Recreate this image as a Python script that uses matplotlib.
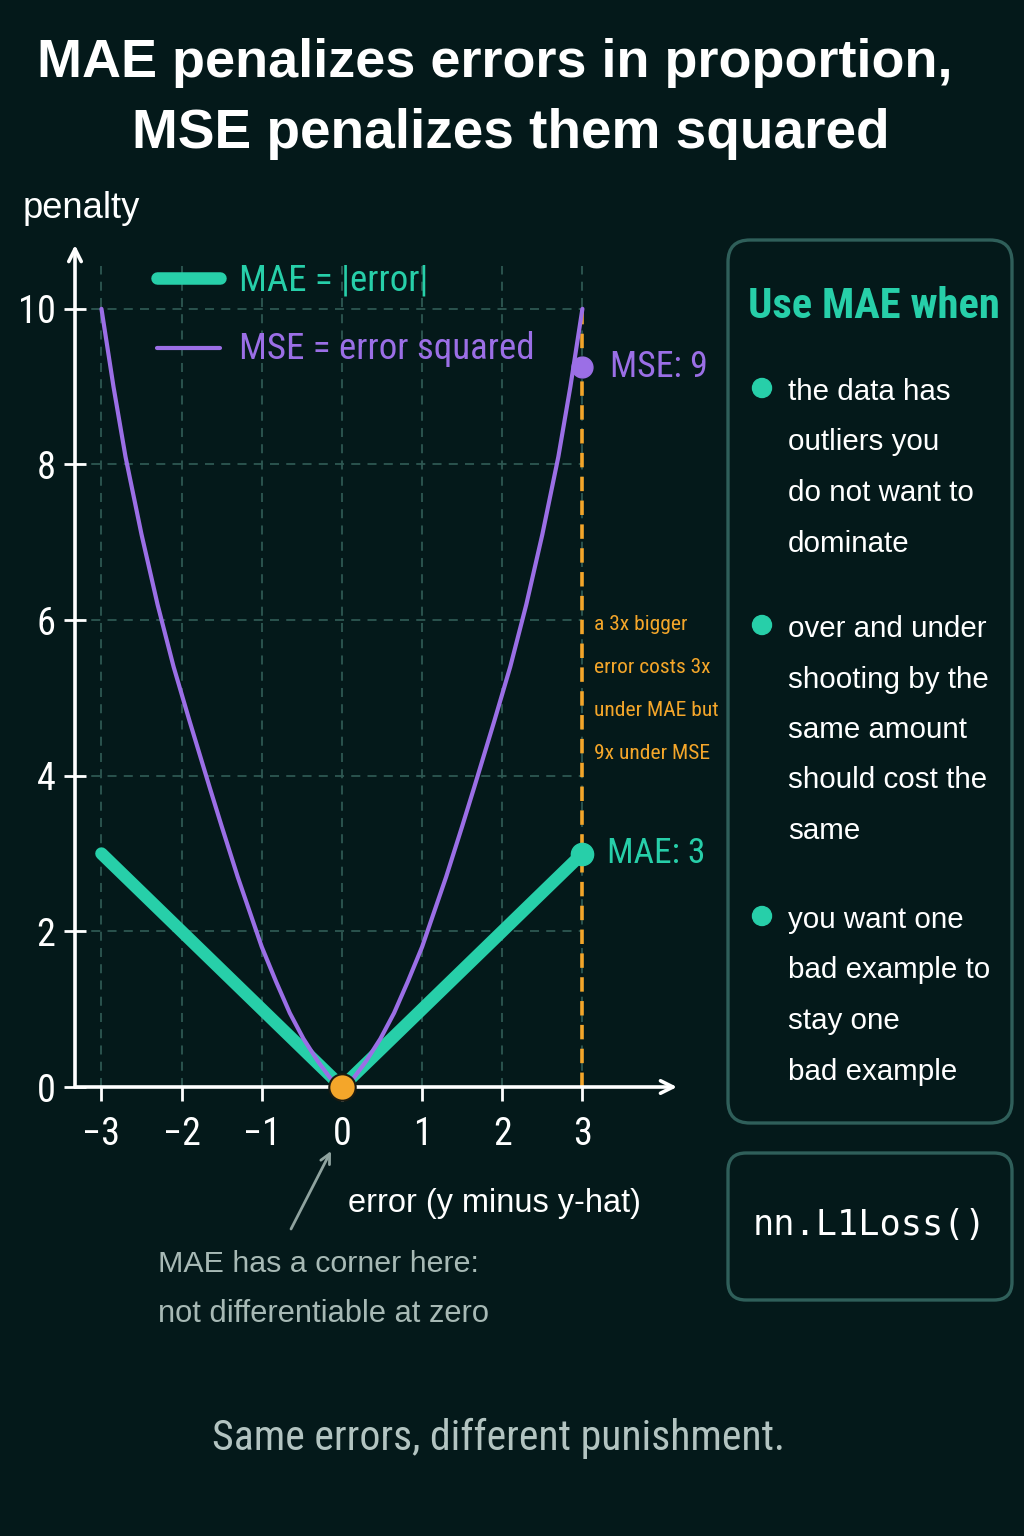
import matplotlib
matplotlib.use('Agg')
import matplotlib.pyplot as plt
from matplotlib import font_manager as fm
from matplotlib.patches import FancyBboxPatch, Circle

# ---------------- data ----------------
mae_errors = [-3.0, 0.0, 3.0]
mae_penalty = [3.0, 0.0, 3.0]
mse_errors = [-3.0, -2.85, -2.7, -2.5, -2.3, -2.1, -1.9, -1.65, -1.5, -1.3, -1.15, -1.0,
              -0.82, -0.65, -0.48, -0.3, -0.15, 0.0,
              0.15, 0.3, 0.48, 0.65, 0.82, 1.0, 1.15, 1.3, 1.5, 1.65, 1.9, 2.1, 2.3,
              2.5, 2.7, 2.85, 3.0]
mse_penalty = [10.0, 9.0, 8.1, 7.1, 6.2, 5.4, 4.7, 3.85, 3.35, 2.7, 2.25, 1.8,
               1.35, 0.95, 0.62, 0.33, 0.12, 0.0,
               0.12, 0.33, 0.62, 0.95, 1.35, 1.8, 2.25, 2.7, 3.35, 3.85, 4.7, 5.4, 6.2,
               7.1, 8.1, 9.0, 10.0]
marked_error = 3.0
mse_marked = 9.25
mae_marked = 3.0
x_ticks = [-3, -2, -1, 0, 1, 2, 3]
y_ticks = [0, 2, 4, 6, 8, 10]
legend_labels = ['MAE = |error|', 'MSE = error squared']
bullets = [
    ['the data has', 'outliers you', 'do not want to', 'dominate'],
    ['over and under', 'shooting by the', 'same amount', 'should cost the', 'same'],
    ['you want one', 'bad example to', 'stay one', 'bad example'],
]
note_lines = ['a 3x bigger', 'error costs 3x', 'under MAE but', '9x under MSE']

# ---------------- style ----------------
W, H = 1024, 1536
BG = '#04191a'
TEAL = '#27cfa9'
PURPLE = '#9b6fe6'
ORANGE = '#f4a62a'
GRID = '#2d5852'
BORDER = '#2f5f5a'
GREY = '#a7b9b5'
FOOT = '#b3c4c1'

entries = fm.fontManager.ttflist
names = {f.name for f in entries}
REG = 'Liberation Sans' if 'Liberation Sans' in names else 'DejaVu Sans'


def pick_condensed():
    for nm in ['Liberation Sans Narrow', 'Roboto Condensed', 'Open Sans Condensed']:
        if nm in names:
            return nm, 'normal'
    for nm in ['Roboto', 'Noto Sans', 'Open Sans', 'Lato', 'DejaVu Sans']:
        for f in entries:
            if f.name == nm and 'condensed' in str(f.stretch):
                return nm, 'condensed'
    return REG, 'normal'


NAR, NST = pick_condensed()
MONO = 'DejaVu Sans Mono'
COND = dict(fontfamily=NAR, fontstretch=NST)

fig = plt.figure(figsize=(W / 100, H / 100), dpi=100, facecolor=BG)
fits = []  # (texts, target width px)

ov = fig.add_axes([0, 0, 1, 1], zorder=0)
ov.set_xlim(0, W)
ov.set_ylim(H, 0)
ov.axis('off')
ov.set_facecolor('none')


def ftext(x, y, s, width=None, **kw):
    t = ov.text(x, y, s, **kw)
    if width:
        fits.append(([t], width))
    return t


# ---------------- main axes ----------------
ax = fig.add_axes([75 / W, (H - 1087) / H, 602 / W, 842 / H], zorder=2)
ax.set_facecolor('none')
ax.set_xlim(-3.33, 4.18)
ax.set_ylim(0, 10.82)
for s in ax.spines.values():
    s.set_visible(False)

ax.hlines(y_ticks[1:], -3.33, marked_error, colors=GRID, linestyles=(0, (5, 4)), lw=1.3, zorder=1)
ax.vlines(x_ticks, 0, 10.55, colors=GRID, linestyles=(0, (5, 4)), lw=1.3, zorder=1)

arrow_kw = dict(arrowstyle='->,head_length=0.9,head_width=0.45', color='white', lw=2.6,
                shrinkA=0, shrinkB=0)
ax.annotate('', xy=(1, 0), xytext=(0, 0), xycoords='axes fraction', arrowprops=arrow_kw, zorder=5)
ax.annotate('', xy=(0, 1), xytext=(0, 0), xycoords='axes fraction', arrowprops=arrow_kw, zorder=5)

ax.set_xticks(x_ticks)
ax.set_yticks(y_ticks)
ax.set_xticklabels([('\u2212%d' % -v) if v < 0 else str(v) for v in x_ticks])
ax.tick_params(axis='x', colors='white', direction='out', length=10, width=2, pad=11, labelsize=26)
ax.tick_params(axis='y', colors='white', direction='inout', length=16, width=2, pad=6, labelsize=28)
for lab in ax.get_xticklabels() + ax.get_yticklabels():
    lab.set_fontfamily(NAR)
    lab.set_fontstretch(NST)

ax.vlines(marked_error, 0, 10, colors=ORANGE, linestyles=(0, (4, 2.6)), lw=2.6, zorder=2)

mae_line, = ax.plot(mae_errors, mae_penalty, color=TEAL, lw=9, solid_capstyle='round',
                    solid_joinstyle='round', zorder=3, label=legend_labels[0])
mse_line, = ax.plot(mse_errors, mse_penalty, color=PURPLE, lw=3, solid_capstyle='round',
                    solid_joinstyle='round', zorder=4, label=legend_labels[1])

ax.plot([marked_error], [mse_marked], 'o', ms=15, color=PURPLE, zorder=6, clip_on=False)
ax.plot([marked_error], [mae_marked], 'o', ms=16, color=TEAL, zorder=6, clip_on=False)
ax.plot([0], [0], 'o', ms=19, color=ORANGE, mec='#1b1b12', mew=1.5, zorder=7, clip_on=False)

t_mse = ax.annotate('MSE: 9', xy=(marked_error, mse_marked), xytext=(20, 0),
                    textcoords='offset points', va='center', ha='left', color=PURPLE,
                    fontsize=26, **COND)
t_mae = ax.annotate('MAE: 3', xy=(marked_error, mae_marked), xytext=(18, 0),
                    textcoords='offset points', va='center', ha='left', color=TEAL,
                    fontsize=26, **COND)
fits.append(([t_mse], 98))
fits.append(([t_mae], 98))

leg = ax.legend(handles=[mae_line, mse_line], loc='upper left',
                bbox_to_anchor=(157 / W, 1 - 262 / H), bbox_transform=fig.transFigure,
                frameon=False, borderpad=0, borderaxespad=0, handlelength=1.9,
                handletextpad=0.55, labelspacing=1.0,
                prop=dict(family=NAR, stretch=NST, size=24))
for t, c in zip(leg.get_texts(), [TEAL, PURPLE]):
    t.set_color(c)

ftext(23, 218, 'penalty', width=117, color='white', fontsize=26, fontfamily=REG,
      va='baseline', ha='left')
ftext(348, 1212, 'error (y minus y-hat)', width=293, color='white', fontsize=23.5,
      fontfamily=REG, va='baseline', ha='left')

note_objs = [ftext(594, 630 + 43 * i, line, color=ORANGE, fontsize=16, va='baseline',
                   ha='left', **COND) for i, line in enumerate(note_lines)]

ftext(158, 1272, 'MAE has a corner here:', width=322, color=GREY, fontsize=22.3,
      fontfamily=REG, va='baseline', ha='left')
ftext(158, 1322, 'not differentiable at zero', width=333, color=GREY, fontsize=22.3,
      fontfamily=REG, va='baseline', ha='left')
ov.annotate('', xy=(331, 1151), xytext=(291, 1229),
            arrowprops=dict(arrowstyle='->,head_length=0.7,head_width=0.35', color='#8fa39f',
                            lw=2, shrinkA=0, shrinkB=0))

ftext(495, 77, 'MAE penalizes errors in proportion,', width=914, color='white', fontsize=38,
      fontweight='bold', fontfamily=REG, ha='center', va='baseline')
ftext(511, 148, 'MSE penalizes them squared', width=757, color='white', fontsize=38,
      fontweight='bold', fontfamily=REG, ha='center', va='baseline')

ov.add_patch(FancyBboxPatch((728, 240), 284, 883, boxstyle='round,pad=0,rounding_size=22',
                            fc=BG, ec=BORDER, lw=2.4))
ftext(748, 318, 'Use MAE when', width=252, color=TEAL, fontsize=25, fontweight='bold',
      ha='left', va='baseline', **COND)
base_starts = [400, 637, 928]
bullet_objs = []
for group, b0 in zip(bullets, base_starts):
    ov.add_patch(Circle((762, b0 - 12), 9.5, color=TEAL))
    for j, line in enumerate(group):
        bullet_objs.append(ftext(788, b0 + 50.5 * j, line, color='white', fontsize=22,
                                 fontfamily=REG, ha='left', va='baseline'))

ov.add_patch(FancyBboxPatch((728, 1153), 284, 147, boxstyle='round,pad=0,rounding_size=18',
                            fc=BG, ec=BORDER, lw=2.4))
ftext(870, 1225, 'nn.L1Loss()', width=233, color='white', fontsize=25, fontfamily=MONO,
      ha='center', va='center')

ftext(499, 1450, 'Same errors, different punishment.', width=573, color=FOOT, fontsize=30,
      ha='center', va='baseline', **COND)

# ---- fit font sizes to the widths measured on the reference ----
fig.canvas.draw()
renderer = fig.canvas.get_renderer()


def scale_group(objs, ref_obj, target):
    w = ref_obj.get_window_extent(renderer).width
    k = target / w
    for o in objs:
        o.set_fontsize(o.get_fontsize() * k)


for objs, target in fits:
    scale_group(objs, objs[0], target)
scale_group(note_objs, note_objs[2], 125)
scale_group(bullet_objs, bullet_objs[0], 162)
scale_group(leg.get_texts(), leg.get_texts()[1], 295)
ylabs = ax.get_yticklabels()
k = 38 / ylabs[-1].get_window_extent(renderer).width
ax.tick_params(axis='y', labelsize=28 * k)
xlabs = ax.get_xticklabels()
k = 38 / xlabs[0].get_window_extent(renderer).width
ax.tick_params(axis='x', labelsize=26 * k)
for lab in ax.get_xticklabels() + ax.get_yticklabels():
    lab.set_fontfamily(NAR)
    lab.set_fontstretch(NST)

fig.savefig('out.png', dpi=100, facecolor=BG)
